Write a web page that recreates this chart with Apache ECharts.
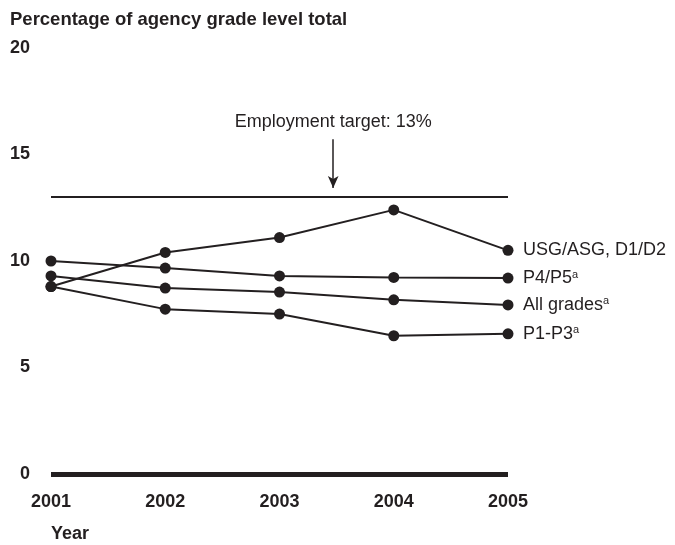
<!DOCTYPE html>
<html>
<head>
<meta charset="utf-8">
<script src="https://cdn.jsdelivr.net/npm/echarts@6/dist/echarts.min.js"></script>
<style>
  html, body { margin: 0; padding: 0; background: #fff; }
  #chart { width: 675px; height: 545px; }
</style>
</head>
<body>
<div id="chart"></div>
<script>
const years = [2001, 2002, 2003, 2004, 2005];
const yTicks = [0, 5, 10, 15, 20];
const seriesNames = ['USG/ASG, D1/D2', 'P4/P5', 'All grades', 'P1-P3'];
const footnoted = [false, true, true, true];
const usgValues = [8.8, 10.4, 11.1, 12.4, 10.5];
const p4p5Values = [10.0, 9.67, 9.3, 9.23, 9.2];
const allValues = [9.3, 8.73, 8.54, 8.18, 7.94];
const p1p3Values = [8.8, 7.74, 7.51, 6.49, 6.58];
const targetValue = 13;
const targetText = 'Employment target: 13%';
// arrow pointing at the target line
const arrowX = 2003.47;
const arrowFrom = 15.72;
const arrowTo = 13.43;

const ink = '#231f20';
const font = '"Liberation Sans", Arial, Helvetica, sans-serif';

const chart = echarts.init(document.getElementById('chart'));

const valueSets = [usgValues, p4p5Values, allValues, p1p3Values];

const lineSeries = valueSets.map((vals, i) => ({
  name: seriesNames[i],
  type: 'line',
  data: years.map((y, j) => [y, vals[j]]),
  symbol: 'circle',
  symbolSize: 11,
  lineStyle: { color: ink, width: 2 },
  itemStyle: { color: ink },
  z: 3,
  endLabel: {
    show: true,
    distance: 15,
    formatter: () => footnoted[i] ? '{n|' + seriesNames[i] + '}{s|a}' : '{n|' + seriesNames[i] + '}',
    rich: {
      n: { fontSize: 18, color: ink, fontFamily: font },
      s: { fontSize: 11, color: ink, fontFamily: font, verticalAlign: 'top' }
    }
  },
  animation: false
}));

// target line + arrow annotation
lineSeries.push({
  type: 'line',
  data: [],
  silent: true,
  markLine: {
    silent: true,
    animation: false,
    data: [
      [
        { coord: [years[0], targetValue], symbol: 'none' },
        { coord: [years[years.length - 1], targetValue], symbol: 'none' }
      ],
      [
        {
          coord: [arrowX, arrowFrom], symbol: 'none',
          lineStyle: { width: 1.5 },
          label: {
            show: true, position: 'start', distance: 8,
            formatter: targetText, fontSize: 18, color: ink, fontFamily: font
          }
        },
        { coord: [arrowX, arrowTo], symbol: 'arrow', symbolSize: [8, 12] }
      ]
    ],
    lineStyle: { color: ink, width: 2, type: 'solid' },
    label: { show: false }
  }
});

chart.setOption({
  animation: false,
  textStyle: { fontFamily: font },
  title: [
    {
      text: 'Percentage of agency grade level total',
      left: 10, top: 10, padding: 0,
      textStyle: { fontSize: 18.5, fontWeight: 'bold', color: ink, fontFamily: font }
    },
    {
      text: 'Year',
      left: 51, top: 525, padding: 0,
      textStyle: { fontSize: 18, fontWeight: 'bold', color: ink, fontFamily: font }
    }
  ],
  grid: { left: 51, right: 167, top: 48, bottom: 71 },
  xAxis: {
    type: 'value',
    min: years[0],
    max: years[years.length - 1],
    interval: 1,
    axisLine: { show: true, lineStyle: { color: ink, width: 5, cap: 'butt' } },
    axisTick: { show: false },
    splitLine: { show: false },
    axisLabel: {
      margin: 19,
      fontSize: 18,
      fontWeight: 'bold',
      color: ink,
      fontFamily: font,
      formatter: (v) => String(v)
    }
  },
  yAxis: {
    type: 'value',
    min: yTicks[0],
    max: yTicks[yTicks.length - 1],
    interval: 5,
    axisLine: { show: false },
    axisTick: { show: false },
    splitLine: { show: false },
    axisLabel: {
      margin: 21,
      fontSize: 18,
      fontWeight: 'bold',
      color: ink,
      fontFamily: font,
      padding: [3, 0, 0, 0],
      formatter: (v) => yTicks.includes(v) ? String(v) : ''
    }
  },
  series: lineSeries
});
</script>
</body>
</html>
